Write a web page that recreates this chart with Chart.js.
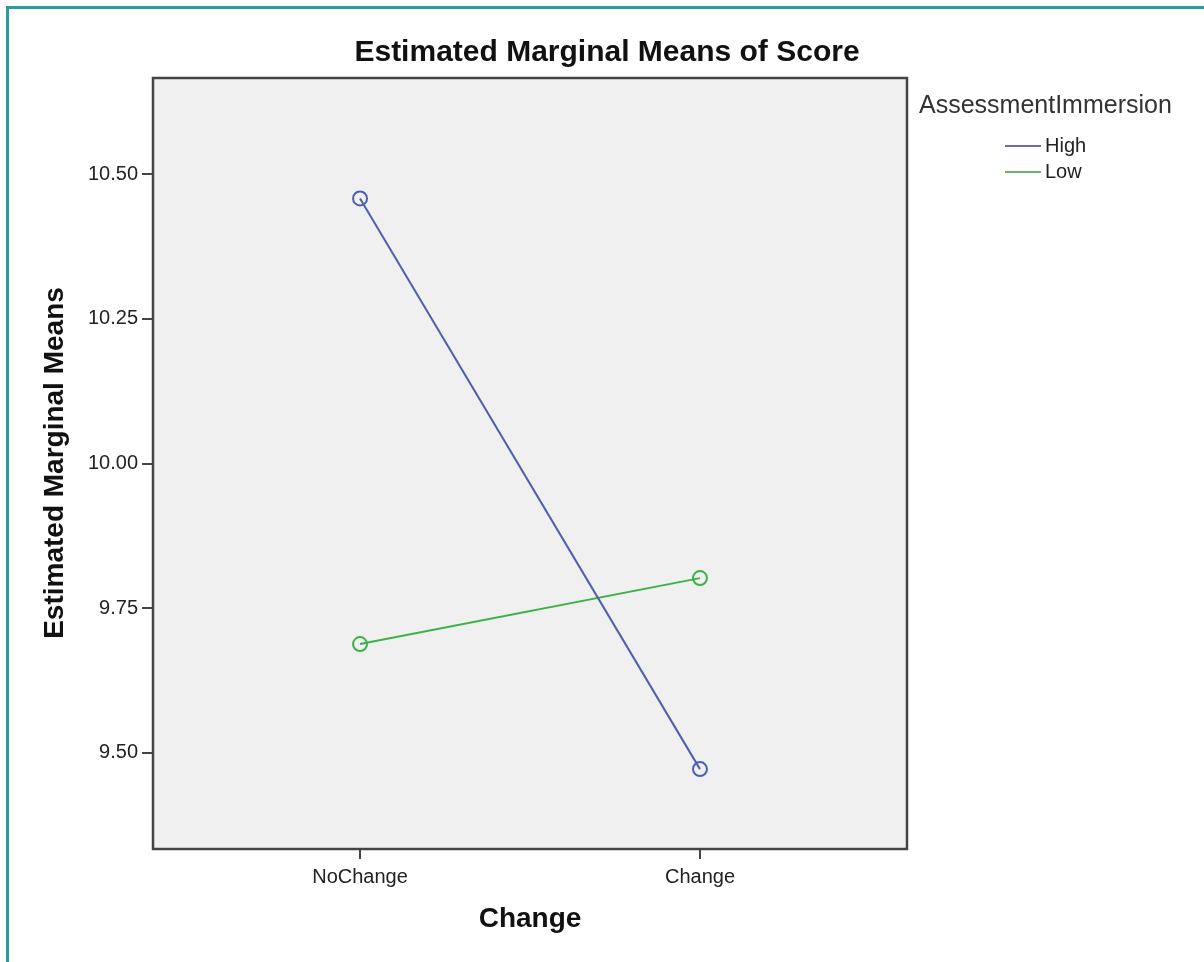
<!DOCTYPE html>
<html>
<head>
<meta charset="utf-8">
<script src="https://cdn.jsdelivr.net/npm/chart.js@4"></script>
<style>
  body { margin: 0; background: #fff; }
  .wrap { position: relative; width: 1204px; height: 962px; overflow: hidden; }
  .frame { position: absolute; left: 6px; top: 6px; width: 1300px; height: 1100px;
           border-left: 3px solid #2a9d9a; border-top: 3px solid #2a9d9a; box-sizing: border-box; }
  canvas { position: absolute; left: 0; top: 0; }
</style>
</head>
<body>
<div class="wrap">
  <div class="frame"></div>
  <canvas id="chart" width="1204" height="962"></canvas>
</div>
<script>
// 資料
const categories = ["NoChange", "Change"];
const highValues = [10.458, 9.472];
const lowValues = [9.688, 9.802];
const yTicks = [9.50, 9.75, 10.00, 10.25, 10.50];

const colors = { high: "#4e5fae", low: "#3cb04a", axis: "#444444", text: "#222222" };
const font = "'Liberation Sans', Arial, sans-serif";

// 標題、框線與圖例
const decor = {
  id: "decor",
  beforeDraw(chart) {
    const { ctx, chartArea: a } = chart;
    ctx.save();
    ctx.fillStyle = "#f0f0f0";
    ctx.fillRect(a.left, a.top, a.right - a.left, a.bottom - a.top);
    ctx.restore();
  },
  afterDraw(chart) {
    const { ctx, chartArea: a } = chart;
    ctx.save();
    ctx.strokeStyle = colors.axis;
    ctx.lineWidth = 2.5;
    ctx.strokeRect(a.left, a.top, a.right - a.left, a.bottom - a.top);

    ctx.fillStyle = "#111";
    ctx.textAlign = "center";
    ctx.textBaseline = "middle";
    ctx.font = "bold 30px " + font;
    ctx.fillText("Estimated Marginal Means of Score", 607, 53);

    ctx.font = "bold 28px " + font;
    ctx.fillText("Change", 530, 919);
    ctx.save();
    ctx.translate(55, 463);
    ctx.rotate(-Math.PI / 2);
    ctx.fillText("Estimated Marginal Means", 0, 0);
    ctx.restore();

    // 圖例
    ctx.fillStyle = "#333";
    ctx.textAlign = "left";
    ctx.font = "25px " + font;
    ctx.fillText("AssessmentImmersion", 919, 106);
    ctx.font = "20px " + font;
    const items = [["High", "#6a72a8"], ["Low", "#6ab56c"]];
    items.forEach((it, i) => {
      const y = 146 + i * 26;
      ctx.strokeStyle = it[1];
      ctx.lineWidth = 2;
      ctx.beginPath();
      ctx.moveTo(1005, y);
      ctx.lineTo(1041, y);
      ctx.stroke();
      ctx.fillStyle = "#222";
      ctx.fillText(it[0], 1045, y);
    });
    ctx.restore();
  }
};

function series(label, values, color) {
  return {
    label: label,
    data: values.map((v, i) => ({ x: i, y: v })),
    borderColor: color,
    backgroundColor: "rgba(0,0,0,0)",
    borderWidth: 2,
    pointRadius: 7,
    pointBorderWidth: 2,
    pointBorderColor: color,
    pointBackgroundColor: "rgba(0,0,0,0)",
    tension: 0,
  };
}

new Chart(document.getElementById("chart"), {
  type: "line",
  data: {
    datasets: [series("High", highValues, colors.high), series("Low", lowValues, colors.low)],
  },
  options: {
    responsive: false,
    animation: false,
    layout: { padding: { left: 0, top: 78, right: 297, bottom: 0 } },
    plugins: { legend: { display: false }, tooltip: { enabled: false } },
    scales: {
      x: {
        type: "linear",
        min: -0.609,
        max: 1.609,
        afterBuildTicks: s => { s.ticks = categories.map((c, i) => ({ value: i })); },
        afterFit: s => { s.height = 113; },
        ticks: {
          autoSkip: false,
          maxRotation: 0,
          padding: 6,
          color: colors.text,
          font: { family: font, size: 20 },
          callback: v => categories[v],
        },
        grid: { drawOnChartArea: false, tickLength: 10, color: colors.axis, lineWidth: 2 },
        border: { display: false },
      },
      y: {
        min: 9.334,
        max: 10.666,
        afterBuildTicks: s => { s.ticks = yTicks.map(v => ({ value: v })); },
        afterFit: s => { s.width = 153; },
        ticks: {
          padding: 4,
          color: colors.text,
          font: { family: font, size: 20 },
          callback: v => Number(v).toFixed(2),
        },
        grid: { drawOnChartArea: false, tickLength: 11, color: colors.axis, lineWidth: 2 },
        border: { display: false },
      },
    },
  },
  plugins: [decor],
});
</script>
</body>
</html>
